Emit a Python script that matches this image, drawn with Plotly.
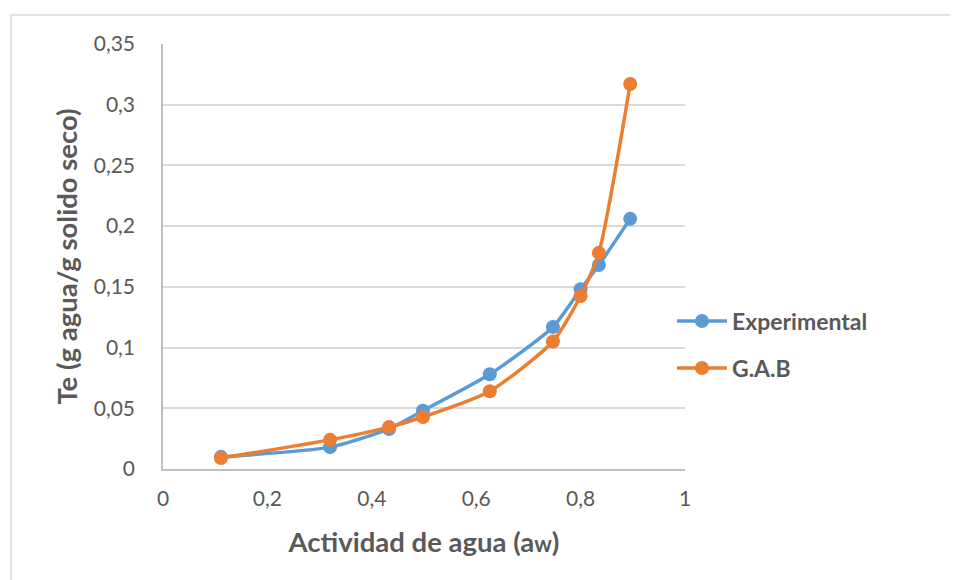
import plotly.graph_objects as go

aw = [0.111, 0.32, 0.433, 0.498, 0.626, 0.747, 0.80, 0.835, 0.895]
experimental = [0.010, 0.018, 0.033, 0.048, 0.078, 0.117, 0.148, 0.168, 0.206]
gab = [0.009, 0.024, 0.0345, 0.0428, 0.064, 0.105, 0.1425, 0.178, 0.317]
x_ticks = [0, 0.2, 0.4, 0.6, 0.8, 1]
x_labels = ["0", "0,2", "0,4", "0,6", "0,8", "1"]
y_ticks = [0, 0.05, 0.1, 0.15, 0.2, 0.25, 0.3, 0.35]
y_labels = ["0", "0,05", "0,1", "0,15", "0,2", "0,25", "0,3", "0,35"]

BLUE = "#5B9BD5"
ORANGE = "#ED7D31"
TXT = "#595959"
FONT = "Lato"

fig = go.Figure()
fig.add_trace(go.Scatter(x=aw, y=experimental, name="<b>Experimental</b>", mode="lines+markers",
                         line=dict(color=BLUE, width=3.5, shape="spline", smoothing=0.6),
                         marker=dict(color=BLUE, size=14), legend="legend"))
fig.add_trace(go.Scatter(x=aw, y=gab, name="<b>G.A.B</b>", mode="lines+markers",
                         line=dict(color=ORANGE, width=3.5, shape="spline", smoothing=0.6),
                         marker=dict(color=ORANGE, size=14), legend="legend2"))

# page body has an 8px margin, so figure is offset by 8px
W, H = 950, 572
L, T = 155, 36
fig.update_layout(
    width=W, height=H,
    margin=dict(l=L, r=W - L - 522, t=T, b=H - T - 425),
    paper_bgcolor="white", plot_bgcolor="white",
    font=dict(family=FONT, color=TXT),
    xaxis=dict(range=[0, 1], tickvals=x_ticks, ticktext=x_labels,
               showgrid=False, zeroline=False, showline=True, linecolor="#BFBFBF", linewidth=1.5,
               ticks="", tickfont=dict(size=21, color=TXT), ticklabelstandoff=10,
               title=dict(text="<b>Actividad de agua (a<span style='font-size:22px'>w</span>)</b>",
                          font=dict(size=27.5, color=TXT), standoff=24)),
    yaxis=dict(range=[0, 0.35], tickvals=y_ticks, ticktext=y_labels,
               showgrid=True, gridcolor="#D9D9D9", gridwidth=1.5, zeroline=False,
               showline=True, linecolor="#BFBFBF", linewidth=1.5,
               ticks="", tickfont=dict(size=21, color=TXT), ticklabelstandoff=22,
               title=dict(text="<b>Te (g agua/g solido seco)</b>",
                          font=dict(size=27.5, color=TXT), standoff=8)),
    legend=dict(x=0.975, y=(469 - 321) / 425, xanchor="left", yanchor="middle", itemwidth=50,
                font=dict(size=23, color=TXT, family=FONT), bgcolor="rgba(0,0,0,0)"),
    legend2=dict(x=0.975, y=(469 - 368) / 425, xanchor="left", yanchor="middle", itemwidth=50,
                 font=dict(size=23, color=TXT, family=FONT), bgcolor="rgba(0,0,0,0)"),
    showlegend=True,
)

fig.add_shape(type="rect", xref="paper", yref="paper",
              x0=(11 - 163) / 522, x1=(965 - 163) / 522,
              y0=(469 - 590) / 425, y1=(469 - 15) / 425,
              line=dict(color="#D9D9D9", width=1.5), layer="below")

fig.write_html("out.html")
